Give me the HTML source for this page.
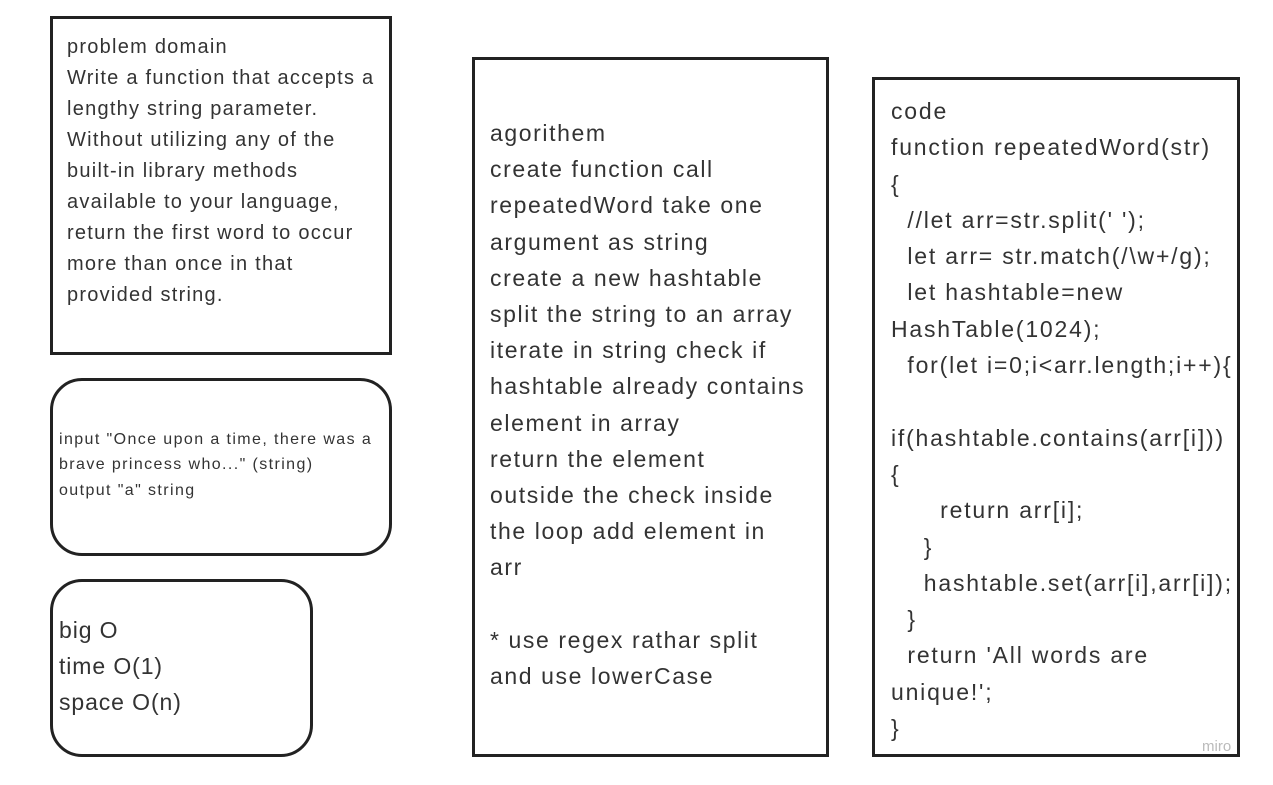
<!DOCTYPE html>
<html><head><meta charset="utf-8"><style>
body{margin:0;width:1273px;height:785px;background:#fff;position:relative;overflow:hidden;font-family:"Liberation Sans",sans-serif;color:#333}
.b{position:absolute;border:3px solid #222;box-sizing:border-box;background:#fff}
.t{position:absolute;white-space:nowrap}
</style></head><body>
<div class="b" style="left:50px;top:16px;width:342px;height:339px"></div>
<div class="t" style="left:67px;top:31.5px;font-size:20px;line-height:31px;letter-spacing:1.25px">problem domain<br>Write a function that accepts a<br>lengthy string parameter.<br>Without utilizing any of the<br>built-in library methods<br>available to your language,<br>return the first word to occur<br>more than once in that<br>provided string.</div>

<div class="b" style="left:50px;top:378px;width:342px;height:178px;border-radius:32px"></div>
<div class="t" style="left:59px;top:426.5px;font-size:16px;line-height:25.5px;letter-spacing:1.4px">input "Once upon a time, there was a<br>brave princess who..." (string)<br>output "a" string</div>

<div class="b" style="left:50px;top:579px;width:263px;height:178px;border-radius:32px"></div>
<div class="t" style="left:59px;top:612px;font-size:23px;line-height:36px;letter-spacing:0.9px">big O<br>time O(1)<br>space O(n)</div>

<div class="b" style="left:472px;top:57px;width:357px;height:700px"></div>
<div class="t" style="left:490px;top:115px;font-size:23px;line-height:36.2px;letter-spacing:1.6px">agorithem<br>create function call<br>repeatedWord take one<br>argument as string<br>create a new hashtable<br>split the string to an array<br>iterate in string check if<br>hashtable already contains<br>element in array<br>return the element<br>outside the check inside<br>the loop add element in<br>arr<br><br>* use regex rathar split<br>and use lowerCase</div>

<div class="b" style="left:872px;top:77px;width:368px;height:680px"></div>
<div class="t" style="left:891px;top:93px;font-size:23px;line-height:36.3px;letter-spacing:1.8px;white-space:pre">code
function repeatedWord(str)
{
  //let arr=str.split(' ');
  let arr= str.match(/\w+/g);
  let hashtable=new
HashTable(1024);
  for(let i=0;i&lt;arr.length;i++){

if(hashtable.contains(arr[i]))
{
      return arr[i];
    }
    hashtable.set(arr[i],arr[i]);
  }
  return 'All words are
unique!';
}</div>
<div class="t" style="left:1202px;top:738px;font-size:15px;color:#bbb">miro</div>
</body></html>
